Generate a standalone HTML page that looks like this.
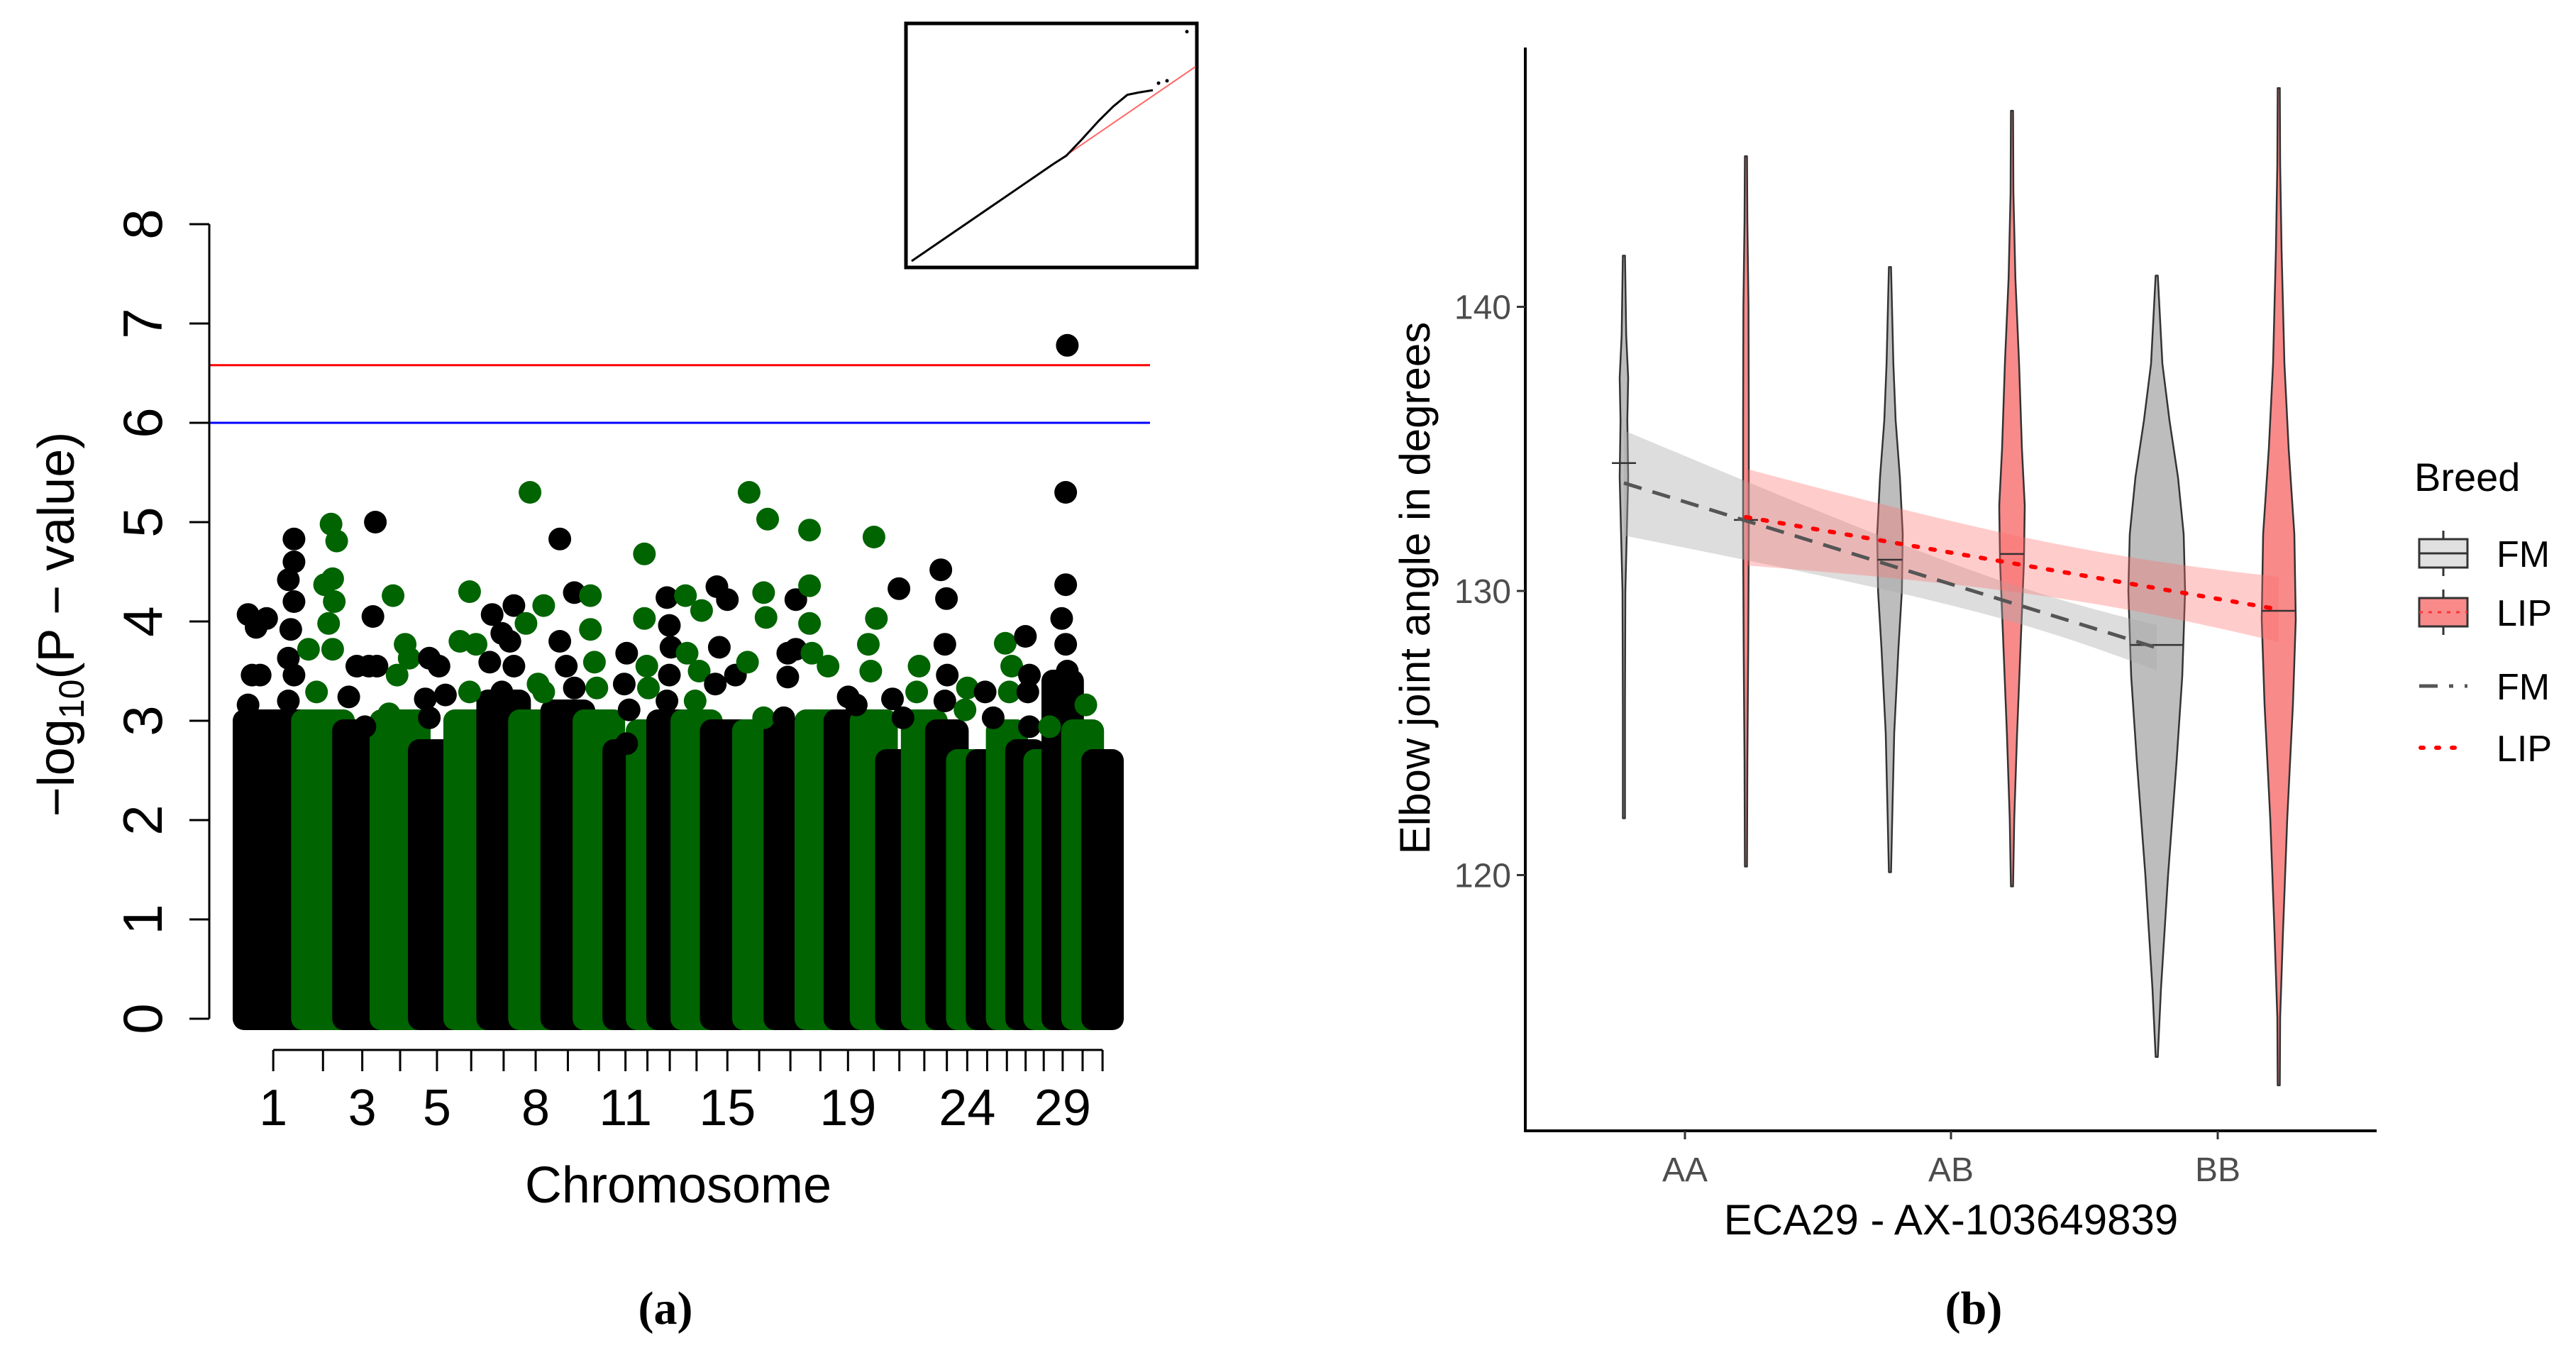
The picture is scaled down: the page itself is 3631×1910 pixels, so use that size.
<!DOCTYPE html>
<html><head><meta charset="utf-8"><title>Manhattan and violin plot</title>
<style>html,body{margin:0;padding:0;background:#fff}svg{display:block}</style></head>
<body>
<svg id="fig" width="3631" height="1910" viewBox="0 0 3631 1910" xmlns="http://www.w3.org/2000/svg" font-family="Liberation Sans, sans-serif">
<g id="panelA"></g>
<g id="panelB"></g>
<text x="938" y="1866" font-family="Liberation Serif, serif" font-weight="bold" font-size="66" text-anchor="middle">(a)</text>
<text x="2782" y="1866" font-family="Liberation Serif, serif" font-weight="bold" font-size="66" text-anchor="middle">(b)</text>
</svg>
<script>
// ---------- Panel A data ----------
const chromNames = ["1","2","3","4","5","6","7","8","9","10","11","12","13","14","15","16","17","18","19","20","21","22","23","24","25","26","27","28","29","30","31"];
const chromLengths = [72.5,51,46.5,47.5,44,41,39.5,40,40,37,29,25.5,30,36.5,40,39,38.5,36,32.5,31.5,32,30,26,24.5,25,24,22.5,22.5,24.5,25,24.5];
const denseTop = [3.0,3.0,2.9,3.0,2.7,3.0,3.2,3.0,3.1,3.0,2.7,2.9,3.0,3.0,2.9,2.9,2.9,3.0,3.0,3.0,2.6,3.0,2.9,2.6,2.6,2.9,2.7,2.6,3.4,2.9,2.6];
const peakPos = [5,15,28,10,20,5,62,62,55,62,58,55,62,55,
 108,115,100,110,112,105,110,80,90,
 163,160,140,155,165,130,150,
 185,200,205,190,180,
 230,242,225,250,230,
 280,268,288,280,
 308,335,320,330,305,335,320,
 355,372,350,365,372,
 392,410,392,400,410,
 430,430,435,438,
 475,472,478,475,
 497,497,500,502,
 525,528,530,528,525,
 548,568,550,565,560,
 587,600,590,585,610,
 627,625,645,650,645,648,
 675,685,675,670,685,
 702,702,702,705,725,
 750,760,
 782,785,775,778,
 813,805,818,
 838,835,
 865,872,870,873,870,
 898,895,
 920,930,
 945,953,950,
 970,975,973,975,
 1000,
 1022,1020,1020,1015,1020,1022,
 1045,
 1062];
const peakVal = [4.07,3.94,4.03,3.46,3.46,3.16,4.83,4.6,4.42,4.2,3.92,3.63,3.46,3.2,
 4.98,4.81,4.37,4.43,4.2,3.98,3.72,3.72,3.29,
 5.0,4.05,3.55,3.55,3.55,3.24,2.94,
 4.26,3.77,3.63,3.46,3.07,
 3.63,3.55,3.22,3.26,3.03,
 4.3,3.8,3.77,3.29,
 4.07,4.16,3.88,3.8,3.59,3.55,3.29,
 5.3,4.16,3.98,3.37,3.29,
 4.83,4.29,3.8,3.55,3.33,
 4.26,3.92,3.59,3.33,
 3.68,3.37,3.11,2.77,
 4.68,4.03,3.55,3.33,
 4.24,3.96,3.74,3.46,3.2,
 4.26,4.11,3.68,3.5,3.2,
 4.35,4.22,3.74,3.37,3.46,
 5.3,3.59,3.03,5.03,4.29,4.04,
 3.68,3.72,3.44,3.03,4.22,
 4.92,4.36,3.98,3.68,3.55,
 3.24,3.16,
 4.85,4.03,3.77,3.5,
 4.33,3.22,3.03,
 3.55,3.29,
 4.52,4.23,3.77,3.46,3.2,
 3.33,3.11,
 3.29,3.03,
 3.78,3.55,3.29,
 3.85,3.46,3.29,2.94,
 2.94,
 6.78,5.3,4.37,4.03,3.77,3.5,
 3.16,
 2.59];
const yTicksA = [0,1,2,3,4,5,6,7,8];
const xLabelChroms = ["1","3","5","8","11","15","19","24","29"];
const sigLine = 6.58, sugLine = 6.0;
// QQ inset (expected vs observed, fractions of inset)
const qqExp = [0.0,0.1,0.2,0.3,0.4,0.5,0.545,0.6,0.66,0.71,0.76,0.8,0.85];
const qqObs = [0.0,0.083,0.166,0.249,0.332,0.415,0.45,0.52,0.60,0.66,0.71,0.72,0.73];
const qqOutX = [0.87,0.90,0.97];
const qqOutY = [0.76,0.77,0.98];

const NS="http://www.w3.org/2000/svg";
function mk(tag, attrs, parent){const e=document.createElementNS(NS,tag);for(const k in attrs)e.setAttribute(k,attrs[k]);if(parent)parent.appendChild(e);return e;}

// ---------- Panel A render ----------
(function(){
 const g=document.getElementById('panelA');
 const total=chromLengths.reduce((a,b)=>a+b,0);
 const x0=344,x1=1568;
 const xs=p=>x0+p/total*(x1-x0);
 const ys=v=>1436-v*140;
 const r=16;
 let cum=0; const starts=[];
 chromLengths.forEach(l=>{starts.push(cum);cum+=l;});
 chromLengths.forEach((l,i)=>{
  const c=i%2===0?'#000000':'#006400';
  const rc=mk('rect',{x:xs(starts[i])-r,y:ys(denseTop[i])-r,width:xs(starts[i]+l)-xs(starts[i])+2*r,height:ys(0)-ys(denseTop[i])+2*r,rx:r,fill:c},g);
  
  
 });
 peakPos.forEach((p,k)=>{
  let ci=0; for(let i=0;i<starts.length;i++){if(p>=starts[i])ci=i;}
  const c=ci%2===0?'#000000':'#006400';
  const d=mk('circle',{cx:xs(p),cy:ys(peakVal[k]),r:r,fill:c},g);
  
  
 });
 const rl=mk('line',{x1:295,x2:1621,y1:ys(sigLine),y2:ys(sigLine),stroke:'#ff0000','stroke-width':3},g);
 
 
 const bl=mk('line',{x1:295,x2:1621,y1:ys(sugLine),y2:ys(sugLine),stroke:'#0000ff','stroke-width':3},g);
 
 
 const ya=mk('line',{x1:295,x2:295,y1:ys(8),y2:ys(0),stroke:'#000','stroke-width':3},g);
 
 
 yTicksA.forEach(t=>{
  const tk=mk('line',{x1:267,x2:295,y1:ys(t),y2:ys(t),stroke:'#000','stroke-width':3},g);
  
  
  const tx=mk('text',{x:0,y:0,'font-size':78,'text-anchor':'middle',transform:`translate(228,${ys(t)}) rotate(-90)`},g);
  tx.textContent=String(t);
  
  
 });
 const centers=chromLengths.map((l,i)=>xs(starts[i]+l/2));
 const xa=mk('line',{x1:centers[0],x2:centers[centers.length-1],y1:1480,y2:1480,stroke:'#000','stroke-width':3},g);
 
 
 centers.forEach((cx,i)=>{
  const tk=mk('line',{x1:cx,x2:cx,y1:1480,y2:1510,stroke:'#000','stroke-width':3},g);
  
  
  if(xLabelChroms.includes(chromNames[i])){
   const tx=mk('text',{x:cx,y:1586,'font-size':72,'text-anchor':'middle'},g);
   tx.textContent=chromNames[i];
   
   
  }
 });
 const xt=mk('text',{x:956,y:1695,'font-size':72,'text-anchor':'middle'},g);
 xt.textContent='Chromosome';
 
 
 const yt=mk('text',{x:0,y:0,'font-size':72,'text-anchor':'middle',transform:'translate(104,880) rotate(-90)'},g);
 
 
 yt.innerHTML='−log<tspan font-size="50" dy="14">10</tspan><tspan dy="-14">(P − value)</tspan>';
 const ig=mk('g',{},g);
 
 
 mk('rect',{x:1277,y:33,width:410,height:344,fill:'#fff',stroke:'#000','stroke-width':5},ig);
 const ix=v=>1285+v*400, iy=v=>368-v*330;
 const rline=mk('line',{x1:ix(0),y1:iy(0),x2:ix(1),y2:iy(0.83),stroke:'#ff6666','stroke-width':2},ig);
 
 
 const pl=mk('polyline',{points:qqExp.map((e,k)=>ix(e)+','+iy(qqObs[k])).join(' '),fill:'none',stroke:'#000','stroke-width':3},ig);
 
 
 qqOutX.forEach((e,k)=>{
  const c=mk('circle',{cx:ix(e),cy:iy(qqOutY[k]),r:2.5,fill:'#000'},ig);
  
  
 });
})();

// ---------- Panel B data ----------
const genotypes = ["AA","AB","BB"];
const breeds = ["FM","LIP"];
const yTicksB = [120,130,140];
const vFM_AA_v=[122,126,130,132,134,136,137.5,139,141.8], vFM_AA_d=[0.02,0.03,0.05,0.1,0.15,0.12,0.15,0.08,0.02];
const vLIP_AA_v=[120.3,124,128,132,136,140,143,145.3], vLIP_AA_d=[0.02,0.05,0.08,0.1,0.1,0.09,0.05,0.02];
const vFM_AB_v=[120.1,122,125,128,130,132,134,136,138,141.4], vFM_AB_d=[0.02,0.08,0.15,0.3,0.42,0.45,0.35,0.2,0.12,0.02];
const vLIP_AB_v=[119.6,122,125,128,131,133,135,138,141,144,146.9], vLIP_AB_d=[0.02,0.08,0.18,0.3,0.42,0.45,0.35,0.25,0.12,0.05,0.02];
const vFM_BB_v=[113.6,116,120,124,127,130,132,134,136,138,141.1], vFM_BB_d=[0.03,0.15,0.4,0.7,0.9,1.0,0.95,0.75,0.45,0.2,0.03];
const vLIP_BB_v=[112.6,115,118,122,126,129,132,135,138,142,145,147.7], vLIP_BB_d=[0.02,0.05,0.15,0.3,0.5,0.6,0.55,0.35,0.2,0.1,0.05,0.02];
const medians = [134.5,132.5,131.1,131.3,128.1,129.3];
const fitFM = [133.8,128.0];
const fitLIP = [132.6,129.35];
const seFM = [1.85,0.9,0.8];
const seLIP = [1.7,1.0,1.15];

(function(){
 const g=document.getElementById('panelB');
 const gx={AA:2375,AB:2750,BB:3126};
 const dodge=86;
 const ys=v=>833-(v-130)*40.05;
 const xg=(gi,bi)=>gx[genotypes[gi]]+(bi===0?-dodge:dodge);
 const wscale=40;
 const fills=['#bdbdbd','#f88a8a'];
 const vio=[[vFM_AA_v,vFM_AA_d],[vLIP_AA_v,vLIP_AA_d],[vFM_AB_v,vFM_AB_d],[vLIP_AB_v,vLIP_AB_d],[vFM_BB_v,vFM_BB_d],[vLIP_BB_v,vLIP_BB_d]];
 function interp(vs,ds,v){for(let i=0;i<vs.length-1;i++){if(v>=vs[i]&&v<=vs[i+1]){const t=(v-vs[i])/(vs[i+1]-vs[i]);return ds[i]+t*(ds[i+1]-ds[i]);}}return 0;}
 vio.forEach((p,k)=>{
  const gi=Math.floor(k/2), bi=k%2, cx=xg(gi,bi);
  const vs=p[0], ds=p[1];
  let pts=[];
  for(let i=0;i<vs.length;i++)pts.push((cx+Math.max(ds[i]*wscale,1.5))+','+ys(vs[i]));
  for(let i=vs.length-1;i>=0;i--)pts.push((cx-Math.max(ds[i]*wscale,1.5))+','+ys(vs[i]));
  const pg=mk('polygon',{points:pts.join(' '),fill:fills[bi],stroke:'#333','stroke-width':2.5,'stroke-linejoin':'round'},g);
  
  
 });
 function ribbon(fit,se,bi,color){
  const n=40; const up=[],lo=[];
  const a=se[0]**2,b1=se[1]**2,c2=se[2]**2;
  const C=(c2-2*b1+a)/2, B=b1-a-C;
  for(let j=0;j<=n;j++){
   const t=2*j/n;
   const x=xg(0,bi)+(xg(2,bi)-xg(0,bi))*t/2;
   const m=fit[0]+(fit[1]-fit[0])*t/2;
   const hw=Math.sqrt(Math.max(a+B*t+C*t*t,0.01));
   up.push(x+','+ys(m+hw)); lo.unshift(x+','+ys(m-hw));
  }
  return mk('polygon',{points:up.concat(lo).join(' '),fill:color},g);
 }
 const rf=ribbon(fitFM,seFM,0,'rgba(170,170,170,0.4)');
 
 
 const rlp=ribbon(fitLIP,seLIP,1,'rgba(255,110,110,0.35)');
 
 
 medians.forEach((m,k)=>{
  const gi=Math.floor(k/2), bi=k%2, cx=xg(gi,bi);
  const hw=Math.max(interp(vio[k][0],vio[k][1],m)*wscale,17);
  const ln=mk('line',{x1:cx-hw,x2:cx+hw,y1:ys(m),y2:ys(m),stroke:'#333','stroke-width':2.5},g);
  
  
 });
 const lf=mk('line',{x1:xg(0,0),y1:ys(fitFM[0]),x2:xg(2,0),y2:ys(fitFM[1]),stroke:'#555','stroke-width':5,'stroke-dasharray':'26,16'},g);
 
 
 const ll=mk('line',{x1:xg(0,1),y1:ys(fitLIP[0]),x2:xg(2,1),y2:ys(fitLIP[1]),stroke:'#ff0000','stroke-width':6,'stroke-dasharray':'6,18','stroke-linecap':'round'},g);
 
 
 const ya=mk('line',{x1:2150,x2:2150,y1:67,y2:1596,stroke:'#000','stroke-width':4},g);
 
 
 const xa=mk('line',{x1:2148,x2:3350,y1:1594,y2:1594,stroke:'#000','stroke-width':4},g);
 
 
 yTicksB.forEach(t=>{
  const tk=mk('line',{x1:2138,x2:2150,y1:ys(t),y2:ys(t),stroke:'#333','stroke-width':3},g);
  
  
  const tx=mk('text',{x:2130,y:ys(t)+17,'font-size':48,'text-anchor':'end',fill:'#4d4d4d'},g);
  tx.textContent=String(t);
  
  
 });
 genotypes.forEach(gname=>{
  const tk=mk('line',{x1:gx[gname],x2:gx[gname],y1:1594,y2:1606,stroke:'#333','stroke-width':3},g);
  
  
  const tx=mk('text',{x:gx[gname],y:1665,'font-size':48,'text-anchor':'middle',fill:'#4d4d4d'},g);
  tx.textContent=gname;
  
  
 });
 const xt=mk('text',{x:2750,y:1740,'font-size':60,'text-anchor':'middle'},g);
 xt.textContent='ECA29 - AX-103649839';
 
 
 const yt=mk('text',{x:0,y:0,'font-size':60,'text-anchor':'middle',transform:'translate(2015,829) rotate(-90)'},g);
 yt.textContent='Elbow joint angle in degrees';
 
 
 const lg=mk('g',{},g);
 
 
 const lt=mk('text',{x:3403,y:692,'font-size':56},lg);
 lt.textContent='Breed';
 
 
 [['FM',780,'#e0e0e0','#333'],['LIP',863,'#f88a8a','#ff3333']].forEach(([nm,cy,f,mc])=>{
  const e=mk('g',{},lg);
  
  
  mk('line',{x1:3444,x2:3444,y1:cy-32,y2:cy+32,stroke:'#333','stroke-width':3},e);
  mk('rect',{x:3410,y:cy-20,width:68,height:40,fill:f,stroke:'#333','stroke-width':3},e);
  mk('line',{x1:3410,x2:3478,y1:cy,y2:cy,stroke:mc,'stroke-width':3,'stroke-dasharray':nm==='LIP'?'5,8':''},e);
  const t=mk('text',{x:3519,y:cy+19,'font-size':52},e);t.textContent=nm;
 });
 const e1=mk('g',{},lg);
 
 
 mk('line',{x1:3410,x2:3478,y1:967,y2:967,stroke:'#555','stroke-width':5,'stroke-dasharray':'26,16,6,16'},e1);
 const t1=mk('text',{x:3519,y:986,'font-size':52},e1);t1.textContent='FM';
 const e2=mk('g',{},lg);
 
 
 mk('line',{x1:3412,x2:3478,y1:1054,y2:1054,stroke:'#ff0000','stroke-width':6,'stroke-dasharray':'4,18','stroke-linecap':'round'},e2);
 const t2=mk('text',{x:3519,y:1073,'font-size':52},e2);t2.textContent='LIP';
})();
</script>
</body></html>
